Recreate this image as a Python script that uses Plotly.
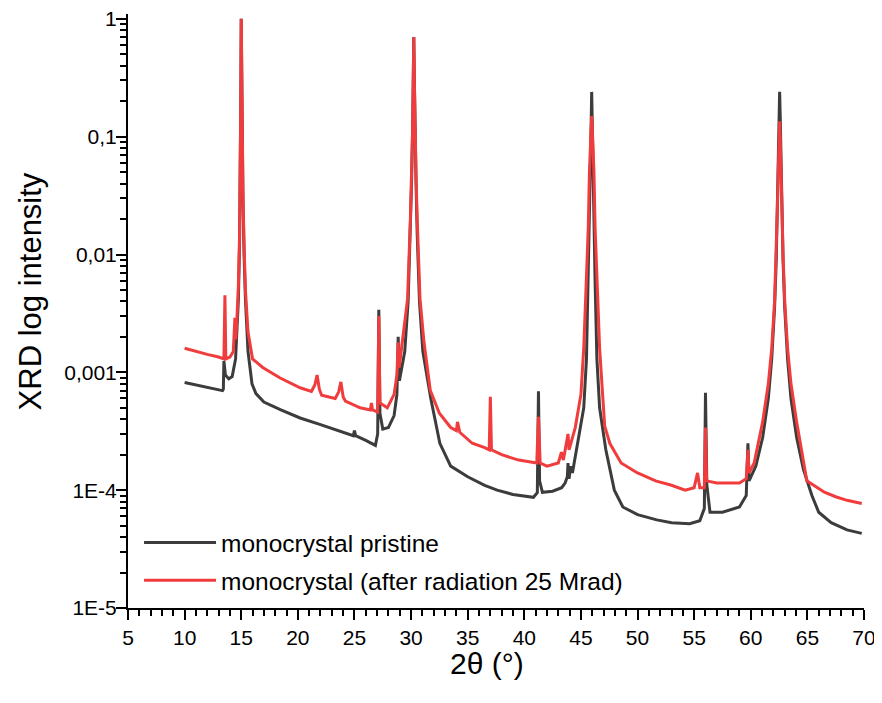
import plotly.graph_objects as go

# ---- data ----
pristine_x = [10.0, 10.5, 11.5, 12.5, 13.35, 13.42, 13.47, 13.6, 13.9, 14.2, 14.5, 14.63, 14.75, 14.85, 14.93, 14.96, 15.0, 15.04, 15.07,
              15.15, 15.25, 15.37, 15.6, 15.95, 16.3, 17.0, 18.5, 20.2, 22.0, 23.5, 24.9, 25.0, 25.1, 26.0, 26.85, 27.05,
              27.15, 27.25, 27.5, 28.0, 28.5, 28.75, 28.86, 28.97, 29.2, 29.44, 29.74, 29.94, 30.04, 30.14, 30.19, 30.24,
              30.29, 30.34, 30.44, 30.54, 30.74, 31.04, 31.74, 32.54, 33.5, 35.0, 36.5, 37.6, 39.0, 40.8, 41.15, 41.25, 41.35,
              41.6, 42.5, 43.3, 43.6, 43.8, 43.86, 43.95, 44.1, 44.25, 44.6, 45.0, 45.25, 45.49, 45.65, 45.75, 45.85,
              45.9, 45.95, 46.0, 46.05, 46.15, 46.25, 46.41, 46.65, 47.2, 47.95, 48.7, 50.0, 51.7, 53.0, 54.6, 55.5,
              55.9, 56.0, 56.12, 56.4, 57.5, 59.0, 59.6, 59.75, 59.85, 60.0, 60.45, 61.05, 61.55, 61.85, 62.1, 62.25,
              62.35, 62.45, 62.5, 62.55, 62.6, 62.65, 62.75, 62.85, 63.0, 63.25, 63.55, 64.05, 64.65, 65.4, 66.0, 67.1,
              68.5, 69.8]
pristine_y = [8.2e-4, 8.0e-4, 7.7e-4, 7.3e-4, 7.0e-4, 7.2e-4, 1.25e-3, 9.5e-4, 8.8e-4, 9.2e-4, 1.3e-3, 2.4e-3, 4.2e-3, 0.012, 0.05, 0.2, 1.0, 0.3, 0.15,
              0.03, 0.01, 4.2e-3, 1.5e-3, 8e-4, 6.6e-4, 5.6e-4, 4.8e-4, 4.1e-4, 3.6e-4, 3.2e-4, 2.9e-4, 3.2e-4, 2.9e-4, 2.65e-4, 2.4e-4, 3.0e-4,
              3.4e-3, 4.5e-4, 3.3e-4, 3.4e-4, 4.3e-4, 6.5e-4, 2.0e-3, 8.5e-4, 1.1e-3, 1.5e-3, 4e-3, 0.015, 0.04, 0.12, 0.3, 0.7,
              0.3, 0.12, 0.04, 0.015, 4e-3, 1.5e-3, 6e-4, 2.5e-4, 1.6e-4, 1.3e-4, 1.1e-4, 1.0e-4, 9.2e-5, 8.7e-5, 9.5e-5, 6.9e-4, 1.2e-4,
              9.6e-5, 9.8e-5, 1.05e-4, 1.15e-4, 1.3e-4, 1.7e-4, 1.25e-4, 1.6e-4, 1.4e-4, 2.2e-4, 3.5e-4, 5e-4, 1.3e-3, 6e-3, 0.017, 0.06,
              0.12, 0.24, 0.12, 0.06, 0.017, 6e-3, 1.3e-3, 5e-4, 2.2e-4, 1.0e-4, 7.2e-5, 6.2e-5, 5.6e-5, 5.3e-5, 5.2e-5, 5.5e-5,
              7e-5, 6.7e-4, 1.1e-4, 6.5e-5, 6.5e-5, 7.2e-5, 9e-5, 2.5e-4, 1.2e-4, 1.3e-4, 1.6e-4, 2.8e-4, 6e-4, 1.3e-3, 3.5e-3, 9e-3,
              0.03, 0.08, 0.15, 0.24, 0.15, 0.08, 0.03, 9e-3, 3.5e-3, 1.3e-3, 6e-4, 2.8e-4, 1.5e-4, 9e-5, 6.5e-5, 5.3e-5,
              4.6e-5, 4.3e-5]

irradiated_x = [10.0, 11.0, 12.0, 13.0, 13.47, 13.56, 13.64, 14.0, 14.3, 14.44, 14.52, 14.63, 14.75, 14.85, 14.93, 14.96, 15.0, 15.04, 15.07,
                15.15, 15.25, 15.37, 15.6, 16.0, 16.9, 18.4, 20.2, 21.2, 21.5, 21.7, 21.9, 22.1, 23.3, 23.6, 23.8, 24.0, 24.2,
                25.5, 26.4, 26.5, 26.6, 27.05, 27.15, 27.25, 27.9, 28.5, 28.75, 28.86, 28.95, 29.3, 29.69, 29.94, 30.04, 30.14,
                30.19, 30.24, 30.29, 30.34, 30.44, 30.54, 30.79, 31.14, 31.7, 32.5, 33.5, 34.0, 34.1, 34.3, 35.4, 36.5, 36.9,
                37.0, 37.1, 38.0, 39.5, 41.1, 41.25, 41.4, 42.0, 43.0, 43.28, 43.45, 43.86, 43.95, 44.5, 45.0, 45.25, 45.49,
                45.65, 45.75, 45.85, 45.9, 45.95, 46.0, 46.05, 46.15, 46.25, 46.41, 46.65, 47.1, 47.55, 48.55, 50.0, 51.6,
                53.0, 54.2, 55.0, 55.3, 55.5, 55.9, 56.0, 56.1, 57.0, 59.0, 59.6, 59.75, 59.85, 60.3, 61.05, 61.55, 61.85,
                62.1, 62.25, 62.35, 62.45, 62.5, 62.55, 62.6, 62.65, 62.75, 62.85, 63.0, 63.25, 63.55, 64.05, 64.95, 66.5,
                67.5, 68.5, 69.8]
irradiated_y = [1.6e-3, 1.5e-3, 1.42e-3, 1.35e-3, 1.3e-3, 4.5e-3, 1.3e-3, 1.35e-3, 1.5e-3, 2.9e-3, 1.9e-3, 3.0e-3, 5.5e-3, 0.014, 0.05, 0.2, 1.0, 0.3, 0.15,
                0.035, 0.012, 5e-3, 2.2e-3, 1.3e-3, 1.1e-3, 9e-4, 7.4e-4, 6.9e-4, 7.8e-4, 9.5e-4, 7.2e-4, 6.4e-4, 6.0e-4, 6.8e-4, 8.3e-4, 6.2e-4, 5.7e-4,
                5.0e-4, 4.8e-4, 5.5e-4, 4.8e-4, 4.6e-4, 3.0e-3, 5.5e-4, 5.0e-4, 6.5e-4, 9.5e-4, 1.8e-3, 1.1e-3, 2.0e-3, 4.2e-3, 0.02, 0.045, 0.12,
                0.3, 0.7, 0.3, 0.12, 0.045, 0.02, 4.2e-3, 1.8e-3, 7e-4, 4.5e-4, 3.4e-4, 3.2e-4, 3.8e-4, 3.1e-4, 2.5e-4, 2.3e-4, 2.2e-4,
                6.2e-4, 2.2e-4, 2.0e-4, 1.8e-4, 1.7e-4, 4.2e-4, 1.7e-4, 1.6e-4, 1.7e-4, 2.1e-4, 1.8e-4, 3.0e-4, 2.2e-4, 3.4e-4, 6.5e-4, 1.6e-3, 6.5e-3,
                0.017, 0.05, 0.09, 0.12, 0.15, 0.12, 0.09, 0.05, 0.017, 6.5e-3, 1.6e-3, 3.5e-4, 2.5e-4, 1.7e-4, 1.4e-4, 1.2e-4,
                1.1e-4, 1.0e-4, 1.05e-4, 1.4e-4, 1.05e-4, 1.05e-4, 3.4e-4, 1.2e-4, 1.15e-4, 1.15e-4, 1.25e-4, 2.2e-4, 1.4e-4, 1.7e-4, 3.8e-4, 8e-4, 1.6e-3,
                4e-3, 0.01, 0.025, 0.06, 0.1, 0.135, 0.1, 0.06, 0.025, 0.01, 4e-3, 1.6e-3, 8e-4, 3.8e-4, 1.2e-4, 9.6e-5,
                8.8e-5, 8.2e-5, 7.7e-5]

series_names = ["monocrystal pristine", "monocrystal (after radiation 25 Mrad)"]
series_colors = ["#3c3c3c", "#f03c3c"]

y_tick_vals = [1e-5, 1e-4, 1e-3, 1e-2, 1e-1, 1]
y_tick_text = ["1E-5", "1E-4", "0,001", "0,01", "0,1", "1"]
x_title = "2θ (°)"
y_title = "XRD log intensity"

FONT = "Liberation Sans, Arial, sans-serif"

fig = go.Figure()
fig.add_trace(go.Scatter(x=pristine_x, y=pristine_y, mode="lines", name=series_names[0],
                         legendgroup="a", line=dict(color=series_colors[0], width=3)))
fig.add_trace(go.Scatter(x=irradiated_x, y=irradiated_y, mode="lines", name=series_names[1],
                         legendgroup="b", line=dict(color=series_colors[1], width=3)))

axis_common = dict(showline=True, linecolor="black", linewidth=2, ticks="outside", ticklen=10,
                   tickwidth=2, tickcolor="black", showgrid=False, zeroline=False, mirror=False,
                   automargin=False, ticklabeloverflow="allow",
                   tickfont=dict(family=FONT, size=21, color="black"))

# the page body has an 8px margin, so the figure is sized to fit 882x703 from (8, 8)
fig.update_layout(
    width=874, height=695,
    margin=dict(l=120, r=18, t=6, b=95),
    paper_bgcolor="white", plot_bgcolor="white",
    font=dict(family=FONT, color="black"),
    xaxis=dict(range=[5, 70], dtick=5, tick0=5,
               minor=dict(dtick=1, ticks="outside", ticklen=6, tickwidth=2, tickcolor="black"),
               **axis_common),
    yaxis=dict(type="log", range=[-5, 0.0414], tickvals=y_tick_vals, ticktext=y_tick_text,
               ticklabelstandoff=-5,
               minor=dict(dtick="D1", ticks="outside", ticklen=6, tickwidth=2, tickcolor="black"),
               **axis_common),
    legend=dict(x=0.015, y=0.148, xanchor="left", yanchor="top", bgcolor="rgba(0,0,0,0)",
                font=dict(family=FONT, size=24.5, color="black"), itemwidth=72, tracegroupgap=3,
                traceorder="grouped"),
    annotations=[
        dict(text=x_title, xref="paper", yref="paper", x=0.488, y=0, xanchor="center", yanchor="middle",
             yshift=-55, showarrow=False, font=dict(family=FONT, size=30, color="black")),
        dict(text=y_title, xref="paper", yref="paper", x=0, y=0.533, xanchor="center", yanchor="middle",
             xshift=-98, textangle=-90, showarrow=False, font=dict(family=FONT, size=31, color="black")),
    ],
)

fig.write_html("out.html")
